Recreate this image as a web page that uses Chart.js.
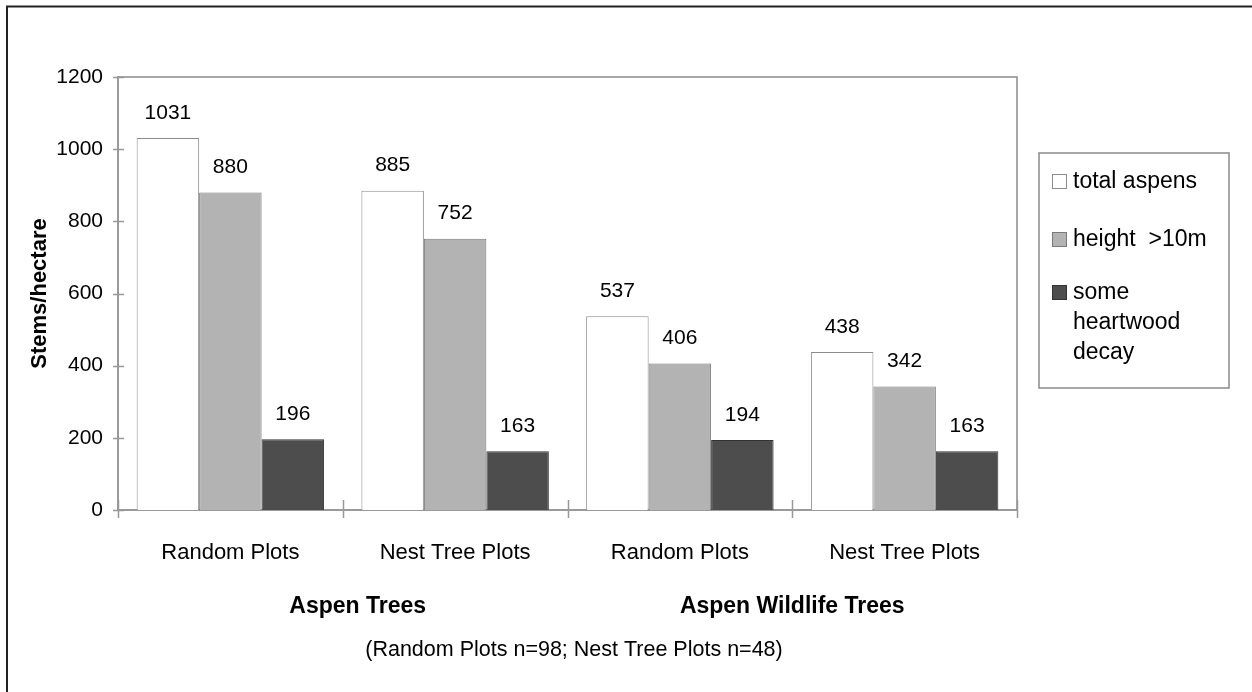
<!DOCTYPE html>
<html>
<head>
<meta charset="utf-8">
<script src="https://cdn.jsdelivr.net/npm/chart.js@4"></script>
<style>
  html, body { margin: 0; padding: 0; background: #fff; }
  #chart { display: block; }
</style>
</head>
<body>
<canvas id="chart" width="1252" height="692"></canvas>
<script>
const categories = ['Random Plots', 'Nest Tree Plots', 'Random Plots', 'Nest Tree Plots'];
const totalAspens = [1031, 885, 537, 438];
const tallAspens = [880, 752, 406, 342];
const decayAspens = [196, 163, 194, 163];
const seriesNames = ['total aspens', 'height  >10m', 'some heartwood decay'];
const legendLines = [['total aspens'], ['height  >10m'], ['some', 'heartwood', 'decay']];
const groupNames = ['Aspen Trees', 'Aspen Wildlife Trees'];
const note = '(Random Plots n=98; Nest Tree Plots n=48)';
const yTicks = [0, 200, 400, 600, 800, 1000, 1200];

const FONT = '"Liberation Sans", Arial, sans-serif';

// frame, tick marks, value labels, group labels and legend
const extras = {
    id: 'extras',
    afterDraw(chart) {
        const ctx = chart.ctx;
        const area = chart.chartArea;
        const xs = chart.scales.x;
        const ys = chart.scales.y;
        ctx.save();

        // outer frame (top + left)
        ctx.strokeStyle = '#222';
        ctx.lineWidth = 2;
        ctx.beginPath();
        ctx.moveTo(1252, 6.5);
        ctx.lineTo(7, 6.5);
        ctx.lineTo(7, 692);
        ctx.stroke();

        // plot top / right edge
        ctx.strokeStyle = '#8a8a8a';
        ctx.lineWidth = 1.5;
        ctx.beginPath();
        ctx.moveTo(area.left, area.top);
        ctx.lineTo(area.right, area.top);
        ctx.lineTo(area.right, area.bottom);
        ctx.stroke();

        // crossing tick marks
        ctx.strokeStyle = '#999';
        ctx.lineWidth = 1.5;
        ctx.beginPath();
        for (let i = 0; i <= categories.length; i++) {
            const x = Math.round(xs.getPixelForValue(i - 0.5)) + 0.5;
            ctx.moveTo(x, area.bottom - 10);
            ctx.lineTo(x, area.bottom + 8);
        }
        ys.ticks.forEach(t => {
            const y = Math.round(ys.getPixelForValue(t.value)) + 0.5;
            ctx.moveTo(area.left - 5, y);
            ctx.lineTo(area.left + 6, y);
        });
        ctx.stroke();

        // value labels
        ctx.fillStyle = '#000';
        ctx.font = '21px ' + FONT;
        ctx.textAlign = 'center';
        ctx.textBaseline = 'middle';
        chart.data.datasets.forEach((ds, di) => {
            chart.getDatasetMeta(di).data.forEach((bar, i) => {
                ctx.fillText(String(ds.data[i]), bar.x, bar.y - 25);
            });
        });

        // group labels
        ctx.font = 'bold 23px ' + FONT;
        ctx.fillText(groupNames[0], (xs.getPixelForValue(0) + xs.getPixelForValue(1)) / 2 + 15, 607);
        ctx.fillText(groupNames[1], (xs.getPixelForValue(2) + xs.getPixelForValue(3)) / 2, 607);
        ctx.font = '21.5px ' + FONT;
        ctx.fillText(note, 574, 650);

        // legend
        const lx = 1039, ly = 153, lw = 190, lh = 235;
        ctx.strokeStyle = '#8a8a8a';
        ctx.lineWidth = 1.5;
        ctx.strokeRect(lx, ly, lw, lh);
        ctx.textAlign = 'left';
        ctx.font = '23px ' + FONT;
        const rowY = [182, 240, 293];
        chart.data.datasets.forEach((ds, di) => {
            const cy = rowY[di];
            ctx.fillStyle = ds.backgroundColor;
            ctx.fillRect(1052.5, cy - 7.5, 14, 14);
            ctx.strokeStyle = ds.borderColor;
            ctx.lineWidth = 1;
            ctx.strokeRect(1052.5, cy - 7.5, 14, 14);
            ctx.fillStyle = '#000';
            legendLines[di].forEach((line, k) => {
                ctx.fillText(line, 1073, cy + k * 30);
            });
        });
        ctx.restore();
    }
};

new Chart(document.getElementById('chart'), {
    type: 'bar',
    data: {
        labels: categories,
        datasets: [
            { label: seriesNames[0], data: totalAspens, backgroundColor: '#ffffff', borderColor: '#8c8c8c', borderWidth: 1 },
            { label: seriesNames[1], data: tallAspens, backgroundColor: '#b3b3b3', borderColor: '#7a7a7a', borderWidth: 1 },
            { label: seriesNames[2], data: decayAspens, backgroundColor: '#4d4d4d', borderColor: '#333333', borderWidth: 1 }
        ]
    },
    options: {
        responsive: false,
        animation: false,
        events: [],
        layout: { padding: { top: 77, right: 235, left: 0, bottom: 0 } },
        datasets: { bar: { categoryPercentage: 0.834, barPercentage: 1 } },
        plugins: {
            legend: { display: false },
            tooltip: { enabled: false }
        },
        scales: {
            x: {
                grid: { display: false, drawTicks: false },
                border: { display: true, color: '#9a9a9a', width: 2 },
                ticks: { color: '#000', font: { family: FONT, size: 22 }, padding: 30, maxRotation: 0 },
                afterFit(scale) { scale.height = 182; }
            },
            y: {
                min: 0,
                max: 1200,
                grid: { display: false, drawTicks: false },
                border: { display: true, color: '#9a9a9a', width: 2 },
                afterBuildTicks(scale) { scale.ticks = yTicks.map(v => ({ value: v })); },
                ticks: {
                    color: '#000',
                    font: { family: FONT, size: 21 },
                    padding: 15,
                    callback: v => String(v)
                },
                title: {
                    display: true,
                    text: 'Stems/hectare',
                    color: '#000',
                    font: { family: FONT, size: 22, weight: 'bold' },
                    padding: { top: 27, bottom: 0 }
                },
                afterFit(scale) { scale.width = 118; }
            }
        }
    },
    plugins: [extras]
});
</script>
</body>
</html>
